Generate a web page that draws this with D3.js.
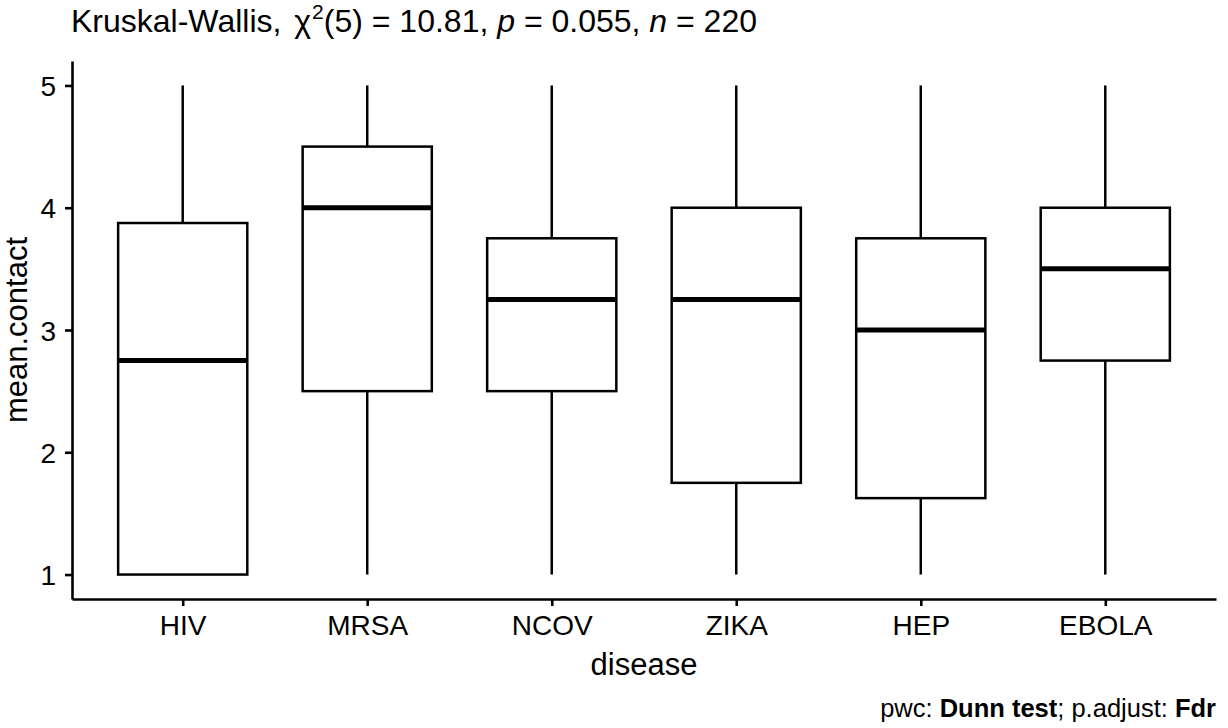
<!DOCTYPE html>
<html>
<head>
<meta charset="utf-8">
<script src="https://cdn.jsdelivr.net/npm/d3@7"></script>
<style>
  body { margin: 0; background: #fff; }
  text { font-family: "Liberation Sans", Arial, Helvetica, sans-serif; fill: #000; }
</style>
</head>
<body>
<div id="chart"></div>
<script>
// box stats
const diseases = ["HIV", "MRSA", "NCOV", "ZIKA", "HEP", "EBOLA"];
const lowerWhisker = [1, 1, 1, 1, 1, 1];
const q1 = [1, 2.5, 2.5, 1.75, 1.625, 2.75];
const medians = [2.75, 4, 3.25, 3.25, 3, 3.5];
const q3 = [3.875, 4.5, 3.75, 4, 3.75, 4];
const upperWhisker = [5, 5, 5, 5, 5, 5];
const yTicks = [1, 2, 3, 4, 5];

const W = 1228, H = 728;
const panel = { left: 72, right: 1216, top: 61, bottom: 599 };

const boxes = diseases.map((d, i) => ({
  name: d,
  lo: lowerWhisker[i],
  q1: q1[i],
  med: medians[i],
  q3: q3[i],
  hi: upperWhisker[i],
}));

const svg = d3
  .select("#chart")
  .append("svg")
  .attr("width", W)
  .attr("height", H);

// scales (ggplot-like expansion: 5% continuous, 0.6 discrete)
const x = d3
  .scalePoint()
  .domain(diseases)
  .range([panel.left, panel.right])
  .padding(0.6);

const y = d3
  .scaleLinear()
  .domain([0.8, 5.2])
  .range([panel.bottom, panel.top]);

const boxW = x.step() * 0.7;

// whiskers
const g = svg.append("g");
g.selectAll(".whisker-up")
  .data(boxes)
  .join("line")
  .attr("x1", (d) => x(d.name))
  .attr("x2", (d) => x(d.name))
  .attr("y1", (d) => y(d.q3))
  .attr("y2", (d) => y(d.hi))
  .attr("stroke", "#000")
  .attr("stroke-width", 2.5);

g.selectAll(".whisker-down")
  .data(boxes)
  .join("line")
  .attr("x1", (d) => x(d.name))
  .attr("x2", (d) => x(d.name))
  .attr("y1", (d) => y(d.q1))
  .attr("y2", (d) => y(d.lo))
  .attr("stroke", "#000")
  .attr("stroke-width", 2.5);

// boxes
g.selectAll("rect")
  .data(boxes)
  .join("rect")
  .attr("x", (d) => x(d.name) - boxW / 2)
  .attr("y", (d) => y(d.q3))
  .attr("width", boxW)
  .attr("height", (d) => y(d.q1) - y(d.q3))
  .attr("fill", "#fff")
  .attr("stroke", "#000")
  .attr("stroke-width", 2.5);

// medians
g.selectAll(".median")
  .data(boxes)
  .join("line")
  .attr("x1", (d) => x(d.name) - boxW / 2)
  .attr("x2", (d) => x(d.name) + boxW / 2)
  .attr("y1", (d) => y(d.med))
  .attr("y2", (d) => y(d.med))
  .attr("stroke", "#000")
  .attr("stroke-width", 5);

// axes
const xAxis = svg
  .append("g")
  .attr("transform", `translate(0,${panel.bottom})`)
  .call(d3.axisBottom(x).tickSize(7).tickSizeOuter(0).tickPadding(9));

const yAxis = svg
  .append("g")
  .attr("transform", `translate(${panel.left},0)`)
  .call(
    d3.axisLeft(y).tickValues(yTicks).tickFormat(d3.format("d"))
      .tickSize(7).tickSizeOuter(0).tickPadding(9)
  );

[xAxis, yAxis].forEach((ax) => {
  ax.select(".domain").attr("stroke", "#000").attr("stroke-width", 2.6);
  ax.selectAll(".tick line").attr("stroke", "#000").attr("stroke-width", 2.6);
  ax.selectAll(".tick text")
    .attr("fill", "#000")
    .style("font-size", "28px")
    .style("font-family", '"Liberation Sans", Arial, sans-serif');
});
yAxis.selectAll(".tick text").attr("dy", "0.36em");

// axis titles
svg
  .append("text")
  .attr("x", (panel.left + panel.right) / 2)
  .attr("y", 675)
  .attr("text-anchor", "middle")
  .style("font-size", "31px")
  .text("disease");

svg
  .append("text")
  .attr("transform", `translate(27,${(panel.top + panel.bottom) / 2}) rotate(-90)`)
  .attr("text-anchor", "middle")
  .style("font-size", "31px")
  .text("mean.contact");

// subtitle with test result
const sub = svg
  .append("text")
  .attr("x", 71)
  .attr("y", 32)
  .style("font-size", "32px");
sub.append("tspan").text("Kruskal-Wallis, ");
sub.append("tspan").attr("dx", 4).text("\u03C7");
sub.append("tspan").attr("dx", 1).attr("dy", -13).style("font-size", "21px").text("2");
sub.append("tspan").attr("dy", 13).text("(5) = 10.81, ");
sub.append("tspan").style("font-style", "italic").text("p");
sub.append("tspan").text(" = 0.055, ");
sub.append("tspan").style("font-style", "italic").text("n");
sub.append("tspan").text(" = 220");

// caption
const cap = svg
  .append("text")
  .attr("x", 1216)
  .attr("y", 717)
  .attr("text-anchor", "end")
  .style("font-size", "25.5px");
cap.append("tspan").text("pwc: ");
cap.append("tspan").style("font-weight", "bold").text("Dunn test");
cap.append("tspan").text("; p.adjust: ");
cap.append("tspan").style("font-weight", "bold").text("Fdr");
</script>
</body>
</html>
